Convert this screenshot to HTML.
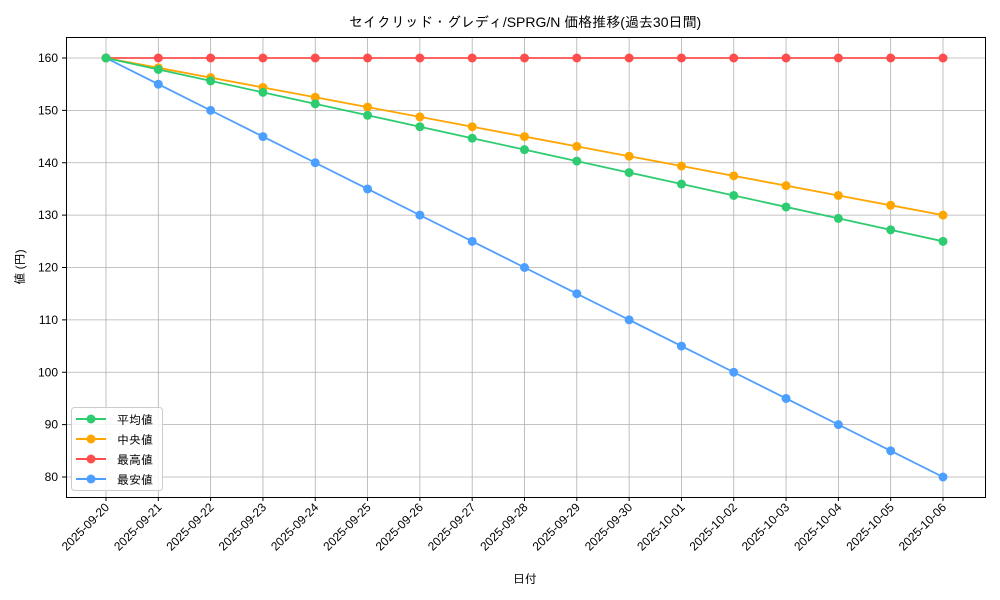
<!DOCTYPE html><html><head><meta charset="utf-8"><style>body{margin:0;background:#fff}svg{display:block;font-family:"Liberation Sans","IPAGothic","Noto Sans CJK JP",sans-serif}</style></head><body>
<svg id="s" width="1000" height="600" xmlns="http://www.w3.org/2000/svg">
<rect width="1000" height="600" fill="#fff"/>
<text x="525" y="27" font-size="14" text-anchor="middle">セイクリッド・グレディ/SPRG/N 価格推移(過去30日間)</text>
<text x="525" y="583" font-size="12" text-anchor="middle">日付</text>
<text transform="translate(24,267) rotate(-90)" font-size="12" text-anchor="middle">値 (円)</text>
<g id="g"></g>
<rect x="66.5" y="37.5" width="919" height="460" fill="none" stroke="#000" stroke-width="1"/>
<g font-size="12">
<rect x="71.5" y="407.5" width="91" height="83" rx="3" fill="#fff" fill-opacity="0.85" stroke="#ccc"/>
<line x1="76" x2="106" y1="419" y2="419" stroke="#2ecc71" stroke-width="2"/><circle cx="91" cy="419" r="4.5" fill="#2ecc71"/><text x="117" y="424">平均値</text>
<line x1="76" x2="106" y1="439" y2="439" stroke="#ffa500" stroke-width="2"/><circle cx="91" cy="439" r="4.5" fill="#ffa500"/><text x="117" y="444">中央値</text>
<line x1="76" x2="106" y1="459" y2="459" stroke="#ff4d4d" stroke-width="2"/><circle cx="91" cy="459" r="4.5" fill="#ff4d4d"/><text x="117" y="464">最高値</text>
<line x1="76" x2="106" y1="479" y2="479" stroke="#4d9fff" stroke-width="2"/><circle cx="91" cy="479" r="4.5" fill="#4d9fff"/><text x="117" y="484">最安値</text>
</g>
</svg>
<script>
var g=document.getElementById('g'),h='';
function X(i){return 106+i*52.3125}function Y(v){return 58+(160-v)*5.2375}
for(var v=80;v<=160;v+=10){var y=Y(v);h+='<line x1="66" x2="986" y1="'+y+'" y2="'+y+'" stroke="#b0b0b0" stroke-width="0.8"/><line x1="62" x2="66" y1="'+y+'" y2="'+y+'" stroke="#000"/><text x="58" y="'+(y+4)+'" font-size="12" text-anchor="end">'+v+'</text>';}
var d=[];for(var i=0;i<17;i++){var dt=new Date(Date.UTC(2025,8,20+i));d.push(dt.toISOString().slice(0,10));}
for(var i=0;i<17;i++){var x=X(i);h+='<line x1="'+x+'" x2="'+x+'" y1="37" y2="497" stroke="#b0b0b0" stroke-width="0.8"/><line x1="'+x+'" x2="'+x+'" y1="497" y2="501" stroke="#000"/><text transform="translate('+(x+4)+',508) rotate(-45)" font-size="12" text-anchor="end">'+d[i]+'</text>';}
var S=[["#ff4d4d",function(i){return 160}],["#4d9fff",function(i){return 160-5*i}],["#ffa500",function(i){return 160-1.875*i}],["#2ecc71",function(i){return 160-2.1875*i}]];
S.forEach(function(s){var p=[];for(var i=0;i<17;i++)p.push(X(i)+','+Y(s[1](i)));h+='<polyline points="'+p.join(' ')+'" fill="none" stroke="'+s[0]+'" stroke-width="1.8"/>';for(var i=0;i<17;i++)h+='<circle cx="'+X(i)+'" cy="'+Y(s[1](i))+'" r="4.5" fill="'+s[0]+'"/>';});
g.innerHTML=h;
</script>
</body></html>
